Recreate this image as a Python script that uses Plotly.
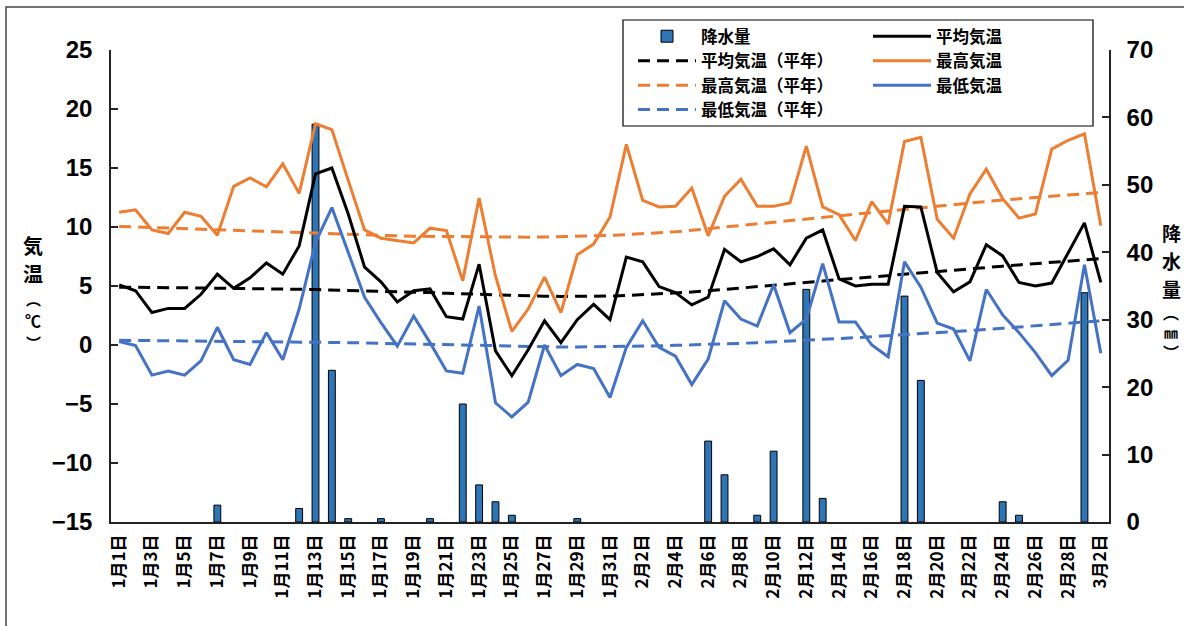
import plotly.graph_objects as go

# ---------------- data ----------------
dates = [
    "1月1日", "1月2日", "1月3日", "1月4日", "1月5日", "1月6日", "1月7日", "1月8日", "1月9日", "1月10日",
    "1月11日", "1月12日", "1月13日", "1月14日", "1月15日", "1月16日", "1月17日", "1月18日", "1月19日", "1月20日",
    "1月21日", "1月22日", "1月23日", "1月24日", "1月25日", "1月26日", "1月27日", "1月28日", "1月29日", "1月30日",
    "1月31日", "2月1日", "2月2日", "2月3日", "2月4日", "2月5日", "2月6日", "2月7日", "2月8日", "2月9日",
    "2月10日", "2月11日", "2月12日", "2月13日", "2月14日", "2月15日", "2月16日", "2月17日", "2月18日", "2月19日",
    "2月20日", "2月21日", "2月22日", "2月23日", "2月24日", "2月25日", "2月26日", "2月27日", "2月28日", "3月1日",
    "3月2日",
]
tick_dates = dates[::2]

precip = [
    0, 0, 0, 0, 0, 0, 2.5, 0, 0, 0,
    0, 2.0, 59.0, 22.5, 0.5, 0, 0.5, 0, 0, 0.5,
    0, 17.5, 5.5, 3.0, 1.0, 0, 0, 0, 0.5, 0,
    0, 0, 0, 0, 0, 0, 12.0, 7.0, 0, 1.0,
    10.5, 0, 34.5, 3.5, 0, 0, 0, 0, 33.5, 21.0,
    0, 0, 0, 0, 3.0, 1.0, 0, 0, 0, 34.0,
    0,
]

t_mean = [
    5.1, 4.6, 2.75, 3.1, 3.1, 4.3, 6.0, 4.8, 5.7, 6.95,
    6.0, 8.4, 14.5, 15.0, 11.1, 6.6, 5.35, 3.65, 4.6, 4.75,
    2.4, 2.2, 6.85, -0.5, -2.6, -0.4, 2.05, 0.2, 2.15, 3.45,
    2.15, 7.45, 7.05, 4.95, 4.45, 3.4, 4.05, 8.1, 7.05, 7.5,
    8.15, 6.8, 9.05, 9.75, 5.6, 5.0, 5.15, 5.15, 11.75, 11.7,
    6.15, 4.5, 5.35, 8.5, 7.55, 5.3, 5.0, 5.25, 7.8, 10.35,
    5.3,
]
t_max = [
    11.25, 11.45, 9.75, 9.45, 11.25, 10.9, 9.3, 13.45, 14.15, 13.4,
    15.35, 12.85, 18.75, 18.25, 13.95, 9.75, 9.05, 8.85, 8.65, 9.9,
    9.7, 5.45, 12.45, 5.85, 1.15, 3.05, 5.75, 2.75, 7.65, 8.55,
    10.85, 17.0, 12.25, 11.7, 11.75, 13.3, 9.25, 12.6, 14.05, 11.75,
    11.75, 12.05, 16.85, 11.7, 11.05, 8.85, 12.15, 10.25, 17.25, 17.6,
    10.65, 9.05, 12.8, 14.9, 12.4, 10.75, 11.1, 16.6, 17.35, 17.9,
    10.1,
]
t_min = [
    0.3, -0.05, -2.55, -2.2, -2.55, -1.35, 1.5, -1.25, -1.65, 1.05,
    -1.25, 3.05, 8.7, 11.65, 7.85, 4.05, 1.9, -0.1, 2.45, 0.2,
    -2.2, -2.4, 3.3, -4.9, -6.1, -4.85, 0.0, -2.6, -1.65, -2.0,
    -4.45, -0.2, 2.05, -0.2, -0.95, -3.35, -1.2, 3.75, 2.2, 1.6,
    5.1, 1.05, 2.2, 6.9, 1.95, 1.95, 0.0, -1.0, 7.05, 4.9,
    1.85, 1.35, -1.35, 4.7, 2.55, 1.05, -0.65, -2.6, -1.3, 6.8,
    -0.7,
]
n_mean = [
    4.9, 4.9, 4.88, 4.87, 4.85, 4.83, 4.82, 4.8, 4.78, 4.76,
    4.74, 4.72, 4.7, 4.67, 4.64, 4.6, 4.56, 4.52, 4.48, 4.44,
    4.38, 4.33, 4.28, 4.23, 4.19, 4.15, 4.13, 4.12, 4.12, 4.13,
    4.15, 4.19, 4.25, 4.32, 4.4, 4.49, 4.59, 4.7, 4.81, 4.93,
    5.05, 5.17, 5.3, 5.42, 5.54, 5.66, 5.78, 5.9, 6.02, 6.13,
    6.24, 6.35, 6.46, 6.57, 6.68, 6.79, 6.9, 7.01, 7.12, 7.22,
    7.32,
]
n_max = [
    10.05, 10.0, 9.95, 9.9, 9.85, 9.8, 9.75, 9.7, 9.65, 9.6,
    9.55, 9.5, 9.45, 9.4, 9.36, 9.32, 9.28, 9.25, 9.22, 9.2,
    9.18, 9.16, 9.15, 9.14, 9.14, 9.14, 9.15, 9.17, 9.2, 9.24,
    9.29, 9.35, 9.42, 9.5, 9.6, 9.72, 9.85, 9.99, 10.12, 10.25,
    10.39, 10.53, 10.67, 10.81, 10.95, 11.09, 11.23, 11.37, 11.51, 11.65,
    11.78, 11.91, 12.04, 12.16, 12.28, 12.4, 12.51, 12.62, 12.72, 12.82,
    12.92,
]
n_min = [
    0.4, 0.39, 0.38, 0.37, 0.36, 0.35, 0.34, 0.33, 0.32, 0.3,
    0.28, 0.26, 0.24, 0.22, 0.2, 0.17, 0.14, 0.11, 0.08, 0.05,
    0.02, -0.02, -0.06, -0.1, -0.13, -0.15, -0.16, -0.17, -0.17, -0.16,
    -0.15, -0.13, -0.1, -0.07, -0.03, 0.0, 0.04, 0.09, 0.14, 0.2,
    0.26, 0.32, 0.38, 0.46, 0.54, 0.62, 0.7, 0.78, 0.86, 0.95,
    1.04, 1.13, 1.22, 1.32, 1.42, 1.52, 1.62, 1.72, 1.83, 1.94,
    2.05,
]

temp_ticks = [-15, -10, -5, 0, 5, 10, 15, 20, 25]
precip_ticks = [0, 10, 20, 30, 40, 50, 60, 70]

left_title = ["気", "温", "︵", "℃", "︶"]
right_title = ["降", "水", "量", "︵", "㎜", "︶"]

# ---------------- geometry (screen pixels; body margin removed by post_script) ----------------
W, H = 1184, 626
L, R, T, B = 111, 1109, 50, 522  # plot area in pixels


def pxx(p):
    return (p - L) / (R - L)


def pxy(p):
    return (B - p) / (B - T)


BLACK = "#000000"
ORANGE = "#ED7D31"
BLUE = "#4472C4"
BAR = "#2E75B6"
DASH = "12px,7px"
JP = "Noto Sans CJK JP"
NUM = "Liberation Sans Narrow, Liberation Sans, Arial, sans-serif"

fig = go.Figure()

fig.add_trace(go.Bar(
    x=dates, y=[v if v > 0 else None for v in precip], name="降水量", yaxis="y", legend="legend",
    width=0.42, marker=dict(color=BAR, line=dict(color=BLACK, width=1)),
))
fig.add_trace(go.Scatter(
    x=dates, y=n_mean, name="平均気温（平年）", mode="lines", yaxis="y2", legend="legend",
    line=dict(color=BLACK, width=3, dash=DASH),
))
fig.add_trace(go.Scatter(
    x=dates, y=n_max, name="最高気温（平年）", mode="lines", yaxis="y2", legend="legend",
    line=dict(color=ORANGE, width=3, dash=DASH),
))
fig.add_trace(go.Scatter(
    x=dates, y=n_min, name="最低気温（平年）", mode="lines", yaxis="y2", legend="legend",
    line=dict(color=BLUE, width=3, dash=DASH),
))
fig.add_trace(go.Scatter(
    x=dates, y=t_mean, name="平均気温", mode="lines", yaxis="y2", legend="legend2",
    line=dict(color=BLACK, width=3),
))
fig.add_trace(go.Scatter(
    x=dates, y=t_max, name="最高気温", mode="lines", yaxis="y2", legend="legend2",
    line=dict(color=ORANGE, width=3),
))
fig.add_trace(go.Scatter(
    x=dates, y=t_min, name="最低気温", mode="lines", yaxis="y2", legend="legend2",
    line=dict(color=BLUE, width=3),
))

tickfont = dict(family=NUM, size=24, color=BLACK, weight="bold")
legfont = dict(family=JP, size=16.5, color=BLACK, weight="bold")

annotations = []
left_y = [245, 273, 298, 320, 342]
left_sz = [20, 20, 15, 16, 15]
for ch, yy, sz in zip(left_title, left_y, left_sz):
    annotations.append(dict(
        text=ch, xref="paper", yref="paper", x=pxx(33), y=pxy(yy),
        xanchor="center", yanchor="middle", showarrow=False,
        font=dict(family=JP, size=sz, color=BLACK, weight="bold")))
right_y = [232, 260, 288, 312, 332, 352]
right_sz = [19, 19, 19, 16, 14, 16]
for ch, yy, sz in zip(right_title, right_y, right_sz):
    annotations.append(dict(
        text=ch, xref="paper", yref="paper", x=pxx(1171), y=pxy(yy),
        xanchor="center", yanchor="middle", showarrow=False,
        font=dict(family=JP, size=sz, color=BLACK, weight="bold")))

fig.update_layout(
    width=W, height=H,
    margin=dict(l=L, r=W - R, t=T, b=H - B, autoexpand=False),
    paper_bgcolor="white", plot_bgcolor="white",
    showlegend=True,
    xaxis=dict(
        type="category", range=[-0.5, len(dates) - 0.5],
        tickmode="array", tickvals=tick_dates, ticktext=tick_dates,
        tickangle=-90, ticks="", showline=True, linecolor="#222", linewidth=1.5,
        showgrid=False, zeroline=False, ticklabelstandoff=4,
        tickfont=dict(family=JP, size=17, color=BLACK, weight="bold"),
    ),
    yaxis=dict(
        side="right", range=[0, 70], tickmode="array", tickvals=precip_ticks,
        ticks="inside", ticklen=7, tickwidth=1.5, tickcolor="#222",
        showline=True, linecolor="#222", linewidth=1.5, showgrid=False, zeroline=False,
        tickfont=tickfont, ticklabelstandoff=11,
    ),
    yaxis2=dict(
        overlaying="y", side="left", range=[-15, 25], tickmode="array", tickvals=temp_ticks,
        ticks="inside", ticklen=7, tickwidth=1.5, tickcolor="#222",
        showline=True, linecolor="#222", linewidth=1.5, showgrid=False, zeroline=False,
        tickfont=tickfont, ticklabelstandoff=12,
    ),
    legend=dict(
        x=pxx(633), y=pxy(19), xanchor="left", yanchor="top",
        bgcolor="rgba(0,0,0,0)", borderwidth=0, font=legfont,
        itemwidth=58, tracegroupgap=0, traceorder="normal",
    ),
    legend2=dict(
        x=pxx(868), y=pxy(19), xanchor="left", yanchor="top",
        bgcolor="rgba(0,0,0,0)", borderwidth=0, font=legfont,
        itemwidth=58, tracegroupgap=0, traceorder="normal",
    ),
    shapes=[
        # legend frame
        dict(type="rect", xref="paper", yref="paper",
             x0=pxx(623), x1=pxx(1093), y0=pxy(126), y1=pxy(20),
             line=dict(color=BLACK, width=1.2), fillcolor="rgba(0,0,0,0)", layer="above"),
        # outer chart frame
        dict(type="rect", xref="paper", yref="paper",
             x0=pxx(6), x1=pxx(1200), y0=pxy(650), y1=pxy(7),
             line=dict(color="#444", width=1.5), fillcolor="rgba(0,0,0,0)", layer="above"),
    ],
    annotations=annotations,
)

fig.write_html(
    "out.html",
    config={"displayModeBar": False},
    post_script="document.body.style.margin='0';document.body.style.overflow='hidden';",
)
